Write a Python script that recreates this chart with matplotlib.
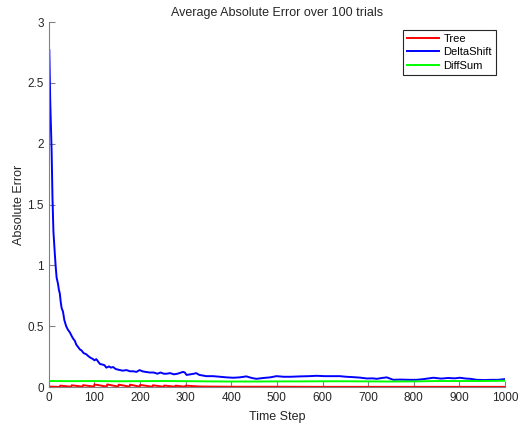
import matplotlib
matplotlib.use('Agg')
import matplotlib.pyplot as plt

# DeltaShift (blue), values
delta_t = [1, 3, 6, 8, 10, 13, 15, 17, 20, 22, 24, 26, 28, 31, 34, 38, 42, 46, 50, 53,
           57, 60, 64, 68, 72, 76, 82, 88, 92, 97, 100, 104, 108, 112, 118, 122, 126,
           132, 136, 141, 146, 150, 156, 162, 170, 178, 185, 192, 199, 205, 212, 221,
           230, 238, 245, 252, 258, 266, 274, 282, 290, 294, 298, 302, 310, 318, 323,
           330, 338, 345, 360, 375, 390, 404, 418, 433, 445, 455, 470, 485, 499, 515,
           530, 550, 570, 587, 605, 620, 638, 652, 667, 682, 697, 710, 719, 730, 741,
           748, 755, 770, 790, 806, 820, 843, 860, 875, 890, 901, 915, 925, 938, 955,
           970, 985, 1000]
delta_err = [2.77, 2.35, 1.95, 1.55, 1.28, 1.1, 0.99, 0.9, 0.85, 0.8, 0.77, 0.7, 0.65,
             0.62, 0.55, 0.5, 0.47, 0.45, 0.42, 0.4, 0.38, 0.35, 0.33, 0.31, 0.3, 0.28,
             0.27, 0.25, 0.24, 0.23, 0.22, 0.23, 0.21, 0.19, 0.185, 0.18, 0.16, 0.17,
             0.16, 0.165, 0.15, 0.145, 0.14, 0.135, 0.14, 0.13, 0.13, 0.125, 0.14, 0.13,
             0.125, 0.12, 0.12, 0.11, 0.12, 0.11, 0.11, 0.115, 0.105, 0.11, 0.12, 0.125,
             0.12, 0.1, 0.105, 0.11, 0.115, 0.1, 0.095, 0.09, 0.09, 0.085, 0.08, 0.077,
             0.08, 0.088, 0.075, 0.068, 0.075, 0.08, 0.09, 0.085, 0.085, 0.088, 0.09,
             0.093, 0.09, 0.09, 0.09, 0.085, 0.082, 0.078, 0.071, 0.072, 0.068, 0.075,
             0.08, 0.07, 0.06, 0.062, 0.06, 0.06, 0.065, 0.077, 0.07, 0.075, 0.072,
             0.077, 0.07, 0.068, 0.06, 0.058, 0.06, 0.06, 0.066]

# DiffSum (green)
diff_t = [1, 50, 100, 150, 200, 250, 300, 350, 400, 450, 500, 550, 600, 650, 700, 750,
          800, 850, 900, 950, 1000]
diff_err = [0.05, 0.049, 0.05, 0.048, 0.049, 0.05, 0.049, 0.047, 0.046, 0.046, 0.047,
            0.047, 0.048, 0.048, 0.047, 0.046, 0.047, 0.05, 0.05, 0.05, 0.052]

# Tree (red) - sawtooth near zero
tree_t = [1, 24, 25, 49, 50, 74, 75, 99, 100, 127, 128, 152, 153, 177, 178, 199, 200,
          227, 228, 252, 253, 277, 278, 299, 300, 330, 360, 400, 450, 500, 600, 700,
          800, 900, 1000]
tree_err = [0.004, 0.002, 0.012, 0.003, 0.015, 0.004, 0.016, 0.004, 0.022, 0.004, 0.022,
            0.004, 0.02, 0.004, 0.02, 0.004, 0.018, 0.003, 0.015, 0.003, 0.013, 0.003,
            0.012, 0.003, 0.012, 0.005, 0.004, 0.003, 0.003, 0.003, 0.002, 0.002, 0.002,
            0.002, 0.002]

plt.rcParams['font.family'] = ['Liberation Sans', 'DejaVu Sans']

fig = plt.figure(figsize=(5.31, 4.24), dpi=100)
ax = fig.add_axes([0.092, 0.087, 0.859, 0.861])

ax.plot(tree_t, tree_err, color='#ff0000', lw=1.4, label='Tree')
ax.plot(delta_t, delta_err, color='#0000ff', lw=1.4, label='DeltaShift')
ax.plot(diff_t, diff_err, color='#00ff00', lw=1.4, label='DiffSum')

ax.set_xlim(0, 1000)
ax.set_ylim(0, 3)
ax.set_xticks(range(0, 1001, 100))
ax.set_yticks([0, 0.5, 1, 1.5, 2, 2.5, 3])
ax.set_yticklabels(['0', '0.5', '1', '1.5', '2', '2.5', '3'])

for s in ['top', 'right']:
    ax.spines[s].set_visible(False)
for s in ['left', 'bottom']:
    ax.spines[s].set_color('#808080')
    ax.spines[s].set_linewidth(0.8)
ax.tick_params(direction='in', length=4, width=0.8, color='#808080',
               labelsize=8.5, labelcolor='#262626')

ax.set_title('Average Absolute Error over 100 trials', fontsize=9, color='#262626', pad=4)
ax.set_xlabel('Time Step', fontsize=9, color='#262626', labelpad=5)
ax.set_ylabel('Absolute Error', fontsize=9, color='#262626', labelpad=2)

leg = ax.legend(loc='upper right', bbox_to_anchor=(0.98, 0.978), borderaxespad=0,
                fontsize=8, fancybox=False, edgecolor='#262626', framealpha=1,
                handlelength=2.9, borderpad=0.35, labelspacing=0.3, handletextpad=0.4)
leg.get_frame().set_linewidth(0.8)

fig.savefig('out.png', dpi=100)
